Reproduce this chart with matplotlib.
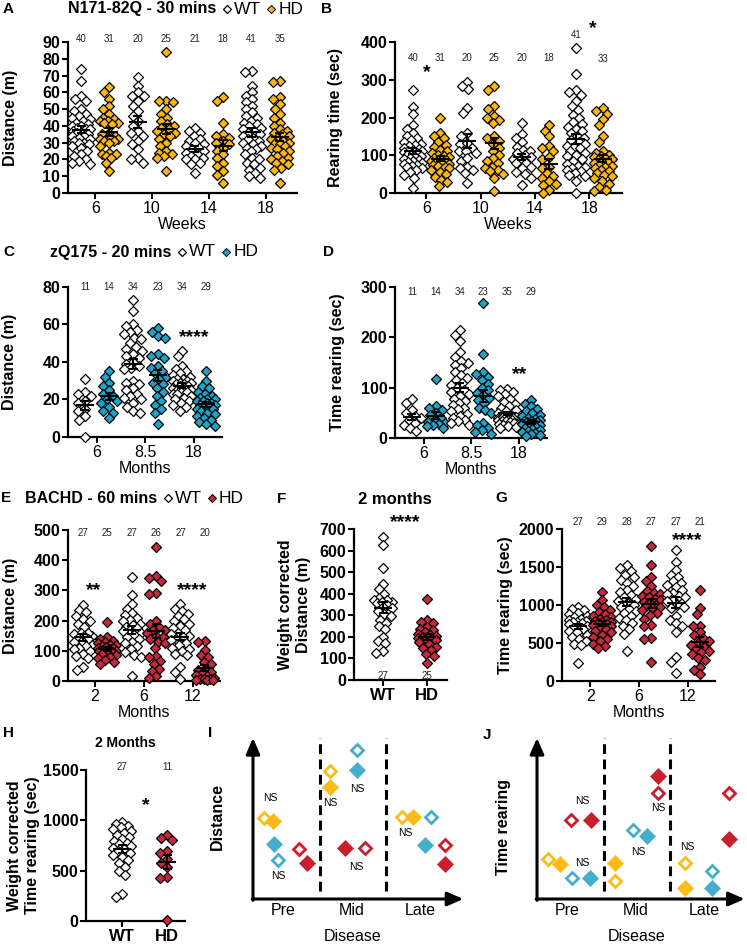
import numpy as np
import matplotlib
matplotlib.use('Agg')
import matplotlib.pyplot as plt
from matplotlib.lines import Line2D

plt.rcParams['font.family'] = ['Liberation Sans', 'DejaVu Sans']

# ---------------- data ----------------
# A  N171-82Q distance (m), weeks 6/10/14/18
a_wt6 = [74, 67, 58, 56, 55, 50, 49, 47, 46, 45, 44, 43, 42, 41, 40, 40, 39, 38, 38, 37,
         36, 36, 35, 34, 34, 33, 32, 31, 30, 30, 29, 28, 27, 25, 23, 22, 20, 19, 18, 17]
a_hd6 = [63, 60, 56, 52, 50, 47, 45, 44, 43, 43, 42, 42, 41, 36, 35, 34, 33, 32, 31, 33,
         32, 31, 30, 28, 24, 23, 22, 23, 21, 18, 13]
a_wt10 = [69, 64, 60, 58, 58, 55, 52, 49, 46, 43, 40, 37, 36, 34, 31, 29, 26, 21, 20, 18]
a_hd10 = [84, 55, 55, 54, 50, 47, 45, 43, 41, 40, 39, 38, 37, 36, 35, 34, 32, 30, 28, 25,
          24, 23, 22, 21, 13]
a_wt14 = [39, 37, 36, 34, 32, 31, 30, 29, 28, 27, 26, 25, 24, 23, 22, 21, 20, 20, 18, 17, 12]
a_hd14 = [57, 55, 42, 35, 34, 33, 31, 30, 29, 27, 25, 23, 21, 18, 16, 13, 11, 6]
a_wt18 = [73, 72, 64, 60, 58, 56, 54, 52, 50, 48, 46, 45, 43, 42, 41, 40, 39, 38, 37, 36,
          35, 34, 33, 32, 31, 30, 29, 28, 27, 26, 25, 23, 21, 20, 18, 17, 15, 14, 12, 10, 9]
a_hd18 = [67, 66, 57, 56, 53, 50, 47, 45, 42, 40, 38, 37, 36, 35, 34, 33, 32, 31, 30, 30,
          29, 28, 27, 26, 25, 24, 22, 21, 20, 19, 18, 17, 15, 14, 6]

# B  N171-82Q rearing time (sec)
b_wt6 = [272, 228, 208, 180, 170, 160, 150, 145, 140, 135, 130, 127, 124, 120, 117, 115,
         112, 110, 108, 105, 102, 100, 98, 95, 92, 90, 88, 85, 82, 80, 78, 75, 72, 68, 65,
         60, 55, 48, 40, 13]
b_hd6 = [200, 160, 152, 145, 136, 128, 122, 115, 110, 105, 100, 97, 95, 92, 90, 88, 85, 82,
         80, 78, 75, 72, 70, 65, 60, 55, 50, 42, 35, 28, 18]
b_wt10 = [295, 275, 283, 225, 211, 160, 150, 130, 132, 110, 119, 112, 105, 85, 92, 70, 65,
          62, 53, 26]
b_hd10 = [283, 272, 230, 222, 205, 200, 193, 185, 150, 145, 138, 130, 120, 110, 100, 92, 85,
          79, 70, 66, 60, 57, 50, 40, 4]
b_wt14 = [186, 155, 145, 135, 123, 114, 110, 105, 101, 95, 90, 88, 80, 79, 70, 66, 55, 50, 40, 22]
b_hd14 = [180, 165, 150, 125, 120, 110, 90, 95, 70, 65, 53, 45, 40, 31, 25, 20, 8, 0]
b_wt18 = [383, 315, 272, 268, 259, 245, 230, 220, 207, 198, 189, 182, 176, 170, 163, 158,
          150, 145, 140, 136, 130, 125, 123, 118, 110, 105, 100, 97, 90, 84, 78, 72, 70, 65,
          62, 58, 53, 48, 44, 31, 0]
b_hd18 = [224, 218, 210, 195, 180, 150, 136, 110, 105, 101, 98, 95, 92, 90, 88, 85, 82, 79,
          75, 72, 70, 66, 62, 58, 54, 48, 45, 40, 31, 25, 15, 9, 4]

# C  zQ175 distance (m), months 6/8.5/18
c_wt6 = [31, 24, 23, 22, 19, 18, 15, 14, 11, 9, 0]
c_hd6 = [35, 32, 29, 27, 25, 23, 22, 20, 19, 18, 16, 14, 13, 10]
c_wt85 = [73, 67, 60, 59, 57, 56, 55, 53, 52, 50, 48, 47, 46, 44, 43, 42, 40, 39, 38, 37,
          36, 30, 29, 28, 26, 25, 23, 22, 21, 20, 18, 16, 14, 13]
c_hd85 = [58, 56, 54, 53, 44, 43, 42, 38, 37, 35, 34, 32, 31, 29, 28, 26, 24, 22, 19, 17, 15, 13, 7]
c_wt18 = [46, 43, 38, 36, 35, 34, 33, 32, 31, 31, 30, 30, 29, 29, 28, 28, 27, 27, 26, 26,
          25, 25, 24, 24, 23, 23, 22, 21, 20, 19, 18, 17, 16, 14]
c_hd18 = [35, 30, 27, 26, 24, 23, 22, 21, 20, 20, 19, 19, 18, 18, 17, 17, 16, 16, 15, 15,
          14, 13, 12, 11, 10, 9, 8, 7, 6]

# D  zQ175 time rearing (sec)
d_wt6 = [77, 70, 55, 50, 43, 40, 35, 30, 25, 20, 13]
d_hd6 = [117, 63, 60, 56, 50, 45, 40, 35, 32, 30, 28, 25, 23, 20]
d_wt85 = [215, 205, 192, 170, 160, 150, 152, 145, 139, 132, 126, 120, 116, 110, 106, 100,
          96, 92, 88, 83, 78, 74, 70, 65, 60, 57, 53, 48, 44, 40, 36, 33, 30, 25]
d_hd85 = [268, 167, 132, 128, 122, 115, 108, 100, 95, 90, 85, 80, 76, 70, 60, 55, 50, 30,
          25, 20, 15, 12, 8]
d_wt18 = [98, 95, 91, 88, 83, 78, 72, 68, 63, 60, 56, 53, 50, 40, 38, 36, 35, 43, 42, 41,
          40, 39, 38, 37, 36, 35, 34, 33, 32, 30, 28, 26, 24, 22, 20]
d_hd18 = [76, 68, 63, 58, 53, 50, 46, 43, 40, 38, 36, 34, 33, 32, 31, 30, 28, 26, 25, 22,
          20, 18, 16, 14, 12, 10, 8, 5, 3]

# E  BACHD distance (m), months 2/6/12
e_wt2 = [252, 235, 228, 215, 205, 198, 190, 180, 160, 150, 160, 155, 148, 142, 138, 132,
         128, 120, 115, 110, 105, 98, 90, 82, 75, 45, 36]
e_hd2 = [196, 145, 138, 132, 128, 125, 120, 118, 115, 112, 110, 108, 105, 102, 100, 98, 95,
         92, 88, 85, 80, 75, 70, 62, 55]
e_wt6 = [345, 285, 255, 240, 225, 218, 210, 203, 198, 190, 185, 180, 175, 170, 165, 160,
         152, 146, 140, 130, 125, 115, 105, 95, 85, 80, 18]
e_hd6 = [444, 347, 340, 332, 292, 288, 200, 190, 180, 170, 160, 150, 170, 140, 130, 145,
         125, 110, 82, 78, 65, 55, 40, 32, 15, 10]
e_wt12 = [254, 240, 232, 222, 215, 205, 198, 190, 182, 175, 168, 160, 155, 150, 145, 140,
          135, 125, 118, 110, 105, 98, 90, 85, 45, 30, 5]
e_hd12 = [133, 128, 104, 85, 80, 62, 55, 40, 36, 30, 25, 20, 15, 10, 8, 6, 5, 4, 3, 2]

# F  BACHD 2 months weight corrected distance (m)
f_wt = [663, 627, 519, 445, 420, 400, 380, 370, 360, 355, 372, 360, 350, 340, 332, 320,
        305, 295, 280, 265, 250, 235, 200, 180, 170, 135, 125]
f_hd = [376, 280, 268, 262, 245, 238, 230, 222, 215, 210, 205, 200, 198, 195, 190, 185,
        180, 175, 165, 155, 150, 140, 120, 112, 80]

# G  BACHD time rearing (sec)
g_wt2 = [980, 945, 930, 900, 880, 860, 840, 820, 800, 790, 780, 770, 760, 745, 730, 720,
         700, 680, 660, 640, 610, 580, 550, 520, 490, 470, 240]
g_hd2 = [1175, 1065, 1000, 975, 940, 910, 880, 860, 840, 820, 800, 790, 780, 770, 760, 750,
         740, 720, 700, 680, 660, 640, 610, 580, 550, 520, 490, 460, 430]
g_wt6 = [1520, 1490, 1450, 1400, 1370, 1330, 1290, 1250, 1200, 1170, 1130, 1100, 1080, 1050,
         1020, 1000, 980, 950, 920, 890, 860, 830, 800, 760, 720, 680, 620, 400]
g_hd6 = [1770, 1530, 1370, 1310, 1250, 1180, 1160, 1140, 1120, 1100, 1080, 1060, 1040, 1020,
         1000, 990, 980, 960, 940, 900, 870, 820, 740, 720, 570, 550, 250]
g_wt12 = [1725, 1570, 1460, 1400, 1370, 1310, 1290, 1260, 1240, 1200, 1160, 1150, 1120, 1100,
          1070, 1050, 1000, 980, 960, 850, 800, 760, 720, 650, 310, 250, 100]
g_hd12 = [1195, 960, 880, 730, 720, 640, 600, 560, 530, 500, 470, 450, 420, 400, 380, 350,
          300, 270, 180, 140, 90]

# H  BACHD 2 months weight corrected time rearing (sec)
h_wt = [985, 960, 945, 930, 910, 890, 870, 850, 830, 810, 790, 775, 760, 745, 730, 715, 700,
        680, 660, 640, 610, 580, 540, 500, 460, 270, 240]
h_hd = [850, 820, 800, 700, 680, 620, 580, 540, 440, 430, 10]

# I / J  schematic summaries (stage position, relative level)
i_x = [0.165, 0.30, 0.316, 0.376, 0.69, 0.81, 1.16, 1.16, 1.56, 1.56, 1.38, 1.68,
       2.24, 2.41, 2.68, 2.59, 2.89, 2.89]
i_y = [0.503, 0.484, 0.342, 0.242, 0.31, 0.224, 0.795, 0.696, 0.925, 0.80, 0.317, 0.317,
       0.509, 0.509, 0.509, 0.335, 0.335, 0.217]
i_model = ['N171', 'N171', 'zQ175', 'zQ175', 'BACHD', 'BACHD', 'N171', 'N171', 'zQ175', 'zQ175',
           'BACHD', 'BACHD', 'N171', 'N171', 'zQ175', 'zQ175', 'BACHD', 'BACHD']
i_hd = [0, 1, 1, 0, 0, 1, 0, 1, 0, 1, 1, 0, 0, 1, 0, 1, 0, 1]
i_ns_x = [0.256, 0.376, 1.16, 1.56, 1.55, 2.29]
i_ns_y = [0.627, 0.143, 0.596, 0.683, 0.199, 0.41]

j_x = [0.51, 0.81, 0.165, 0.346, 0.526, 0.80, 1.17, 1.17, 1.44, 1.65, 1.82, 1.82,
       2.23, 2.23, 2.63, 2.63, 2.89, 2.89]
j_y = [0.49, 0.49, 0.248, 0.217, 0.13, 0.13, 0.224, 0.112, 0.43, 0.39, 0.764, 0.658,
       0.224, 0.068, 0.174, 0.068, 0.658, 0.373]
j_model = ['BACHD', 'BACHD', 'N171', 'N171', 'zQ175', 'zQ175', 'N171', 'N171', 'zQ175', 'zQ175',
           'BACHD', 'BACHD', 'N171', 'N171', 'zQ175', 'zQ175', 'BACHD', 'BACHD']
j_hd = [0, 1, 0, 1, 0, 1, 1, 0, 0, 1, 1, 0, 0, 1, 0, 1, 0, 1]
j_ns_x = [0.68, 0.68, 1.52, 1.82, 2.26]
j_ns_y = [0.61, 0.224, 0.29, 0.565, 0.323]

stages = ['Pre', 'Mid', 'Late']

# ---------------- drawing ----------------
YELLOW = '#FDB714'
BLUE = '#1DA4CB'
RED = '#C8283D'
SCHEME = {'N171': '#FDBB18', 'zQ175': '#45AFCB', 'BACHD': '#C81E2D'}

W, H = 747, 944
fig = plt.figure(figsize=(W / 100, H / 100), dpi=100)
renderer = fig.canvas.get_renderer()


def add_ax(box):
    l, t, r, b = box
    return fig.add_axes([l / W, 1 - b / H, (r - l) / W, (b - t) / H])


def ftext(x, y, s, **kw):
    kw.setdefault('va', 'center')
    return fig.text(x / W, 1 - y / H, s, **kw)


def swarm(ypix, d=6.5, maxw=9.0):
    # simple beeswarm: offsets in pixels
    order = np.argsort(-ypix, kind='stable')
    cands = np.arange(-maxw, maxw + 0.01, 1.0)
    cands = cands[np.argsort(np.abs(cands), kind='stable')]
    px, py = [], []
    out = np.zeros(len(ypix))
    for i in order:
        y = ypix[i]
        c = 0.0
        if px:
            ax_, ay_ = np.array(px), np.array(py)
            dist = np.array([np.min(np.hypot(cc - ax_, y - ay_)) for cc in cands])
            ok = np.where(dist >= d)[0]
            c = cands[ok[0]] if len(ok) else cands[np.argmax(dist)]
        px.append(c)
        py.append(y)
        out[i] = c
    return out


def dot_panel(box, groups, faces, xlim, ymax, ystep, xticks, xlabels, xlabel, ylabel,
              ylab_x, n_y, stars=(), xbold=False):
    ax = add_ax(box)
    l, t, r, b = box
    ppx = (r - l) / (xlim[1] - xlim[0])
    ppy = (b - t) / ymax
    for i, (vals, fc) in enumerate(zip(groups, faces)):
        v = np.asarray(vals, float)
        off = swarm(v * ppy) / ppx
        ax.plot(i + off, v, ls='none', marker='D', ms=5.0, mfc=fc, mec='black', mew=0.9,
                clip_on=False, zorder=3)
        m = v.mean()
        se = v.std(ddof=1) / np.sqrt(len(v))
        hw, cw = 9 / ppx, 4.5 / ppx
        kw = dict(color='black', lw=1.5, zorder=4, solid_capstyle='butt', clip_on=False)
        ax.plot([i - hw, i + hw], [m, m], **kw)
        ax.plot([i, i], [m - se, m + se], **kw)
        ax.plot([i - cw, i + cw], [m + se] * 2, **kw)
        ax.plot([i - cw, i + cw], [m - se] * 2, **kw)
        ny = n_y[i] if isinstance(n_y, list) else n_y
        ax.text(i, ny, str(len(v)), transform=ax.get_xaxis_transform(), ha='center',
                va='center', fontsize=7, color='#222222')
    for sx, sy, s in stars:
        ax.text(sx, sy, s, transform=ax.get_xaxis_transform(), ha='center', va='center',
                fontsize=14, fontweight='bold')
    ax.set_xlim(*xlim)
    ax.set_ylim(0, ymax)
    for s in ['top', 'right']:
        ax.spines[s].set_visible(False)
    for s in ['left', 'bottom']:
        ax.spines[s].set_linewidth(1.6)
    yt = np.arange(0, ymax + 1, ystep)
    ax.set_yticks(yt)
    ax.set_yticklabels([str(int(y)) for y in yt], fontweight='bold', fontsize=11.5)
    ax.set_xticks(xticks)
    if xbold:
        ax.set_xticklabels(xlabels, fontweight='bold', fontsize=12)
    else:
        ax.set_xticklabels(xlabels, fontsize=11.5)
    ax.tick_params(width=1.5, length=4, pad=1.5)
    if xlabel:
        ax.set_xlabel(xlabel, fontsize=11.5, labelpad=1)
    ax.set_ylabel(ylabel, fontweight='bold', fontsize=11.5, linespacing=1.25)
    ax.yaxis.label.set_verticalalignment('center')
    ax.yaxis.set_label_coords(ylab_x, 0.5)
    return ax


def title_legend(y, xb, bold, color):
    t = ftext(xb, y, bold, fontweight='bold', fontsize=11.5)
    x = t.get_window_extent(renderer).x1
    yf = 1 - y / H
    fig.add_artist(Line2D([(x + 11) / W], [yf], marker='D', ms=4.2, mfc='white', mec='black',
                          mew=0.9, transform=fig.transFigure))
    w = ftext(x + 18, y, 'WT', fontsize=12.5)
    x = w.get_window_extent(renderer).x1
    fig.add_artist(Line2D([(x + 10) / W], [yf], marker='D', ms=4.2, mfc=color, mec='black',
                          mew=0.7, transform=fig.transFigure))
    ftext(x + 17, y, 'HD', fontsize=12.5)


def scheme(box, xs, ys, models, hd, ns_x, ns_y, ylabel, ylab_xy, xend):
    ax = add_ax(box)
    ax.set_xlim(0, 3.2)
    ax.set_ylim(0, 1)
    ax.axis('off')
    arrow = dict(arrowstyle='-|>,head_length=0.8,head_width=0.35', lw=2.2, color='black',
                 shrinkA=0, shrinkB=0, mutation_scale=12)
    ax.annotate('', xy=(0, 1.0), xytext=(0, -0.008), arrowprops=arrow, annotation_clip=False)
    ax.annotate('', xy=(xend, 0), xytext=(-0.012, 0), arrowprops=arrow, annotation_clip=False)
    ax.vlines([1, 2], 0.05, 1.0, colors='black', linestyles=(0, (3.2, 1.8)), lw=2.2)
    for x, y, mdl, f in zip(xs, ys, models, hd):
        c = SCHEME[mdl]
        if f:
            ax.plot(x, y, marker='D', ms=8.2, mfc=c, mec=c, mew=0.5, ls='none', clip_on=False)
        else:
            ax.plot(x, y, marker='D', ms=6.4, mfc='white', mec=c, mew=2.0, ls='none', clip_on=False)
    for x, y in zip(ns_x, ns_y):
        ax.text(x, y, 'NS', fontsize=7.5, ha='center', va='center')
    for x, s in zip([0.45, 1.49, 2.52], stages):
        ax.text(x, -0.07, s, fontsize=11.5, ha='center', va='center')
    ax.text(1.49, -0.236, 'Disease', fontsize=11.5, ha='center', va='center')
    ax.text(ylab_xy[0], ylab_xy[1], ylabel, rotation=90, fontsize=11.5, fontweight='bold',
            ha='center', va='center')


# Row 1: N171-82Q
ftext(3, 9, 'A', fontweight='bold', fontsize=11)
title_legend(9, 68, 'N171-82Q - 30 mins', YELLOW)
ftext(321, 9, 'B', fontweight='bold', fontsize=11)

dot_panel((68, 42, 297, 193),
          [a_wt6, a_hd6, a_wt10, a_hd10, a_wt14, a_hd14, a_wt18, a_hd18],
          ['white', YELLOW] * 4, (-0.46, 7.6), 90, 10, [0.5, 2.5, 4.5, 6.5],
          ['6', '10', '14', '18'], 'Weeks', 'Distance (m)', -0.253, 1.02)
dot_panel((395, 42, 622, 193),
          [b_wt6, b_hd6, b_wt10, b_hd10, b_wt14, b_hd14, b_wt18, b_hd18],
          ['white', YELLOW] * 4, (-0.66, 7.7), 400, 100, [0.5, 2.5, 4.5, 6.5],
          ['6', '10', '14', '18'], 'Weeks', 'Rearing time (sec)', -0.264,
          [0.894] * 6 + [1.046, 0.887], stars=[(0.52, 0.80, '*'), (6.64, 1.09, '*')])

# Row 2: zQ175
ftext(3, 252, 'C', fontweight='bold', fontsize=11)
title_legend(252, 50, 'zQ175 - 20 mins', BLUE)
ftext(323, 252, 'D', fontweight='bold', fontsize=11)

dot_panel((68, 287, 222, 437), [c_wt6, c_hd6, c_wt85, c_hd85, c_wt18, c_hd18],
          ['white', BLUE] * 3, (-0.7, 5.66), 80, 20, [0.5, 2.5, 4.5], ['6', '8.5', '18'],
          'Months', 'Distance (m)', -0.377, 1.0, stars=[(4.5, 0.66, '****')])
dot_panel((395, 287, 547, 438), [d_wt6, d_hd6, d_wt85, d_hd85, d_wt18, d_hd18],
          ['white', BLUE] * 3, (-0.71, 5.67), 300, 100, [0.5, 2.5, 4.5], ['6', '8.5', '18'],
          'Months', 'Time rearing (sec)', -0.38, 0.967, stars=[(4.54, 0.42, '**')])

# Row 3: BACHD
ftext(1, 498, 'E', fontweight='bold', fontsize=11)
title_legend(498, 25, 'BACHD - 60 mins', RED)
ftext(277, 499, 'F', fontweight='bold', fontsize=11)
ftext(395, 499, '2 months', fontweight='bold', fontsize=12, ha='center')
ftext(495, 498, 'G', fontweight='bold', fontsize=11)

dot_panel((68, 530, 220, 681), [e_wt2, e_hd2, e_wt6, e_hd6, e_wt12, e_hd12],
          ['white', RED] * 3, (-0.61, 5.62), 500, 100, [0.5, 2.5, 4.5], ['2', '6', '12'],
          'Months', 'Distance (m)', -0.38, 0.98,
          stars=[(0.45, 0.60, '**'), (4.47, 0.60, '****')])
dot_panel((354, 529, 447, 680), [f_wt, f_hd], ['white', RED], (-0.66, 1.45), 700, 100,
          [0, 1], ['WT', 'HD'], None, 'Weight corrected\nDistance (m)', -0.645, 0.026,
          stars=[(0.5, 1.045, '****')], xbold=True)
dot_panel((562, 529, 715, 681), [g_wt2, g_hd2, g_wt6, g_hd6, g_wt12, g_hd12],
          ['white', RED] * 3, (-0.66, 5.62), 2000, 500, [0.5, 2.5, 4.5], ['2', '6', '12'],
          'Months', 'Time rearing (sec)', -0.37, 1.046, stars=[(4.47, 0.925, '****')])

# Row 4
ftext(3, 733, 'H', fontweight='bold', fontsize=11)
ftext(125, 743, '2 Months', fontweight='bold', fontsize=10, ha='center')
dot_panel((86, 770, 185, 921), [h_wt, h_hd], ['white', RED], (-0.8, 1.4), 1500, 500,
          [0, 1], ['WT', 'HD'], None, 'Weight corrected\nTime rearing (sec)', -0.63, 1.02,
          stars=[(0.53, 0.765, '*')], xbold=True)

ftext(208, 733, 'I', fontweight='bold', fontsize=11)
scheme((253, 738, 466, 899), i_x, i_y, i_model, i_hd, i_ns_x, i_ns_y, 'Distance',
       (-0.53, 0.51), 3.16)
ftext(483, 735, 'J', fontweight='bold', fontsize=11)
scheme((537, 738, 750, 899), j_x, j_y, j_model, j_hd, j_ns_x, j_ns_y, 'Time rearing',
       (-0.51, 0.45), 3.12)

fig.savefig('out.png', dpi=100)
